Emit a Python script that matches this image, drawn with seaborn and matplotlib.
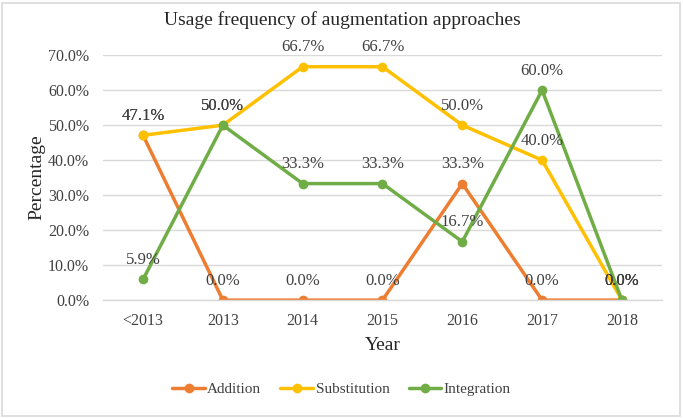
import pandas as pd
import seaborn as sns
import matplotlib.pyplot as plt
from matplotlib.patches import Rectangle

# Chart data (percentages)
years = ['<2013', '2013', '2014', '2015', '2016', '2017', '2018']
addition = [47.1, 0.0, 0.0, 0.0, 33.3, 0.0, 0.0]
substitution = [47.1, 50.0, 66.7, 66.7, 50.0, 40.0, 0.0]
integration = [5.9, 50.0, 33.3, 33.3, 16.7, 60.0, 0.0]
series_names = ['Addition', 'Substitution', 'Integration']
colors = ['#ED7D31', '#FFC000', '#70AD47']


def main():
    sns.set_style('white')
    plt.rcParams['font.family'] = ['Liberation Serif', 'DejaVu Serif']

    df = pd.DataFrame({
        'Year': years * 3,
        'Percentage': addition + substitution + integration,
        'Series': sum([[s] * len(years) for s in series_names], []),
    })
    df['pos'] = df['Year'].map({y: i for i, y in enumerate(years)})

    fig = plt.figure(figsize=(6.83, 4.18), dpi=100)
    ax = fig.add_axes([0.151, 0.282, 0.818, 0.586])

    sns.lineplot(data=df, x='pos', y='Percentage', hue='Series',
                 hue_order=series_names, palette=colors, marker='o',
                 markersize=7, markeredgewidth=0, linewidth=2.5,
                 sort=False, ax=ax)

    # data labels above each point
    for name, color in zip(series_names, colors):
        sub = df[df['Series'] == name]
        for x, y in zip(sub['pos'], sub['Percentage']):
            ax.annotate(f"{y:.1f}%", (x, y), xytext=(0, 14),
                        textcoords='offset points', ha='center',
                        va='center', fontsize=12, color='#404040')

    ax.set_xlim(-0.5, 6.5)
    ax.set_ylim(0, 70)
    ax.set_xticks(range(len(years)))
    ax.set_xticklabels(years)
    ax.set_yticks(range(0, 71, 10))
    ax.set_yticklabels([f"{v:.1f}%" for v in range(0, 71, 10)])
    ax.tick_params(axis='both', labelsize=11.5, colors='#404040', length=0)
    ax.tick_params(axis='x', pad=9)
    ax.tick_params(axis='y', pad=10)
    ax.yaxis.grid(True, color='#D9D9D9', linewidth=1)
    ax.set_axisbelow(True)
    for s in ['top', 'right', 'left']:
        ax.spines[s].set_visible(False)
    ax.spines['bottom'].set_color('#D9D9D9')
    ax.spines['bottom'].set_linewidth(1)

    ax.set_xlabel('Year', fontsize=14, color='#262626', labelpad=6)
    ax.set_ylabel('Percentage', fontsize=14, color='#262626', labelpad=2)
    fig.text(0.502, 0.952, 'Usage frequency of augmentation approaches',
             ha='center', va='center', fontsize=14, color='#262626')

    handles, labels = ax.get_legend_handles_labels()
    ax.legend(handles, labels, loc='center', bbox_to_anchor=(0.5, 0.068),
              bbox_transform=fig.transFigure, ncol=3, frameon=False,
              fontsize=11, handlelength=2.15, columnspacing=1.25,
              handletextpad=0.15, labelcolor='#404040')

    # chart area border
    fig.patches.append(Rectangle((0.003, 0.004), 0.992, 0.99,
                                 transform=fig.transFigure, fill=False,
                                 edgecolor='#D9D9D9', linewidth=1.2))

    plt.savefig('out.png', dpi=100)
    plt.close()


if __name__ == "__main__":
    main()
